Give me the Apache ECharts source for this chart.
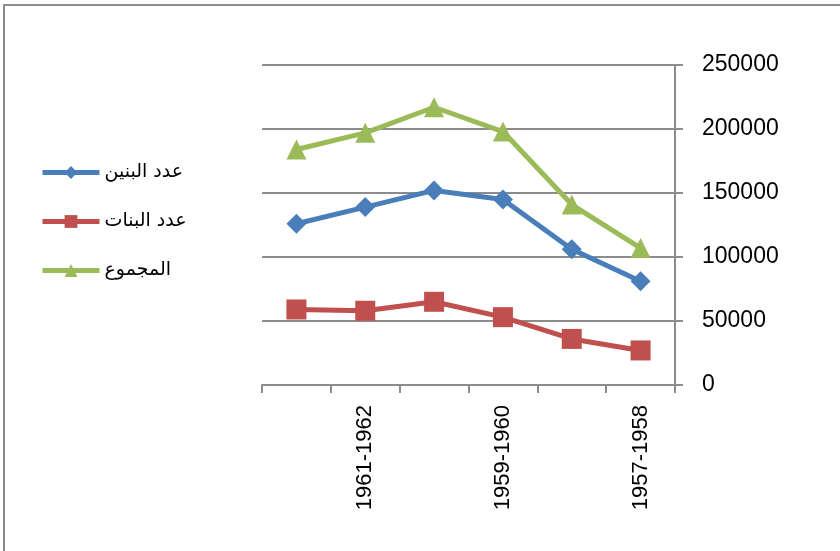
<!DOCTYPE html>
<html lang="ar">

<head>
    <meta charset="UTF-8">
    <title>Chart</title>
    <script src="https://cdn.jsdelivr.net/npm/echarts@6/dist/echarts.min.js"></script>
    <style>
        html, body {
            margin: 0;
            padding: 0;
            background: #fff;
        }

        .frame {
            position: absolute;
            left: 3px;
            top: 4px;
            width: 860px;
            height: 560px;
            border-top: 2px solid #8c8c8c;
            border-left: 2px solid #8c8c8c;
        }

        .chart {
            position: absolute;
            left: 0;
            top: 0;
            width: 840px;
            height: 551px;
        }
    </style>
</head>

<body>
    <div class="frame"></div>
    <div class="chart"></div>

    <script>
        // السنوات الدراسية (المحور معكوس: الأولى تظهر يميناً)
        var years = ['1957-1958', '1958-1959', '1959-1960', '1960-1961', '1961-1962', '1962-1963'];
        var boys = [81000, 106000, 145000, 152000, 139000, 126000];
        var girls = [27000, 36000, 53000, 65000, 58000, 59000];
        var total = [107000, 141000, 198000, 217000, 197000, 184000];
        var yTicks = { min: 0, max: 250000, step: 50000 };

        var chart = echarts.init(document.querySelector('.chart'));

        function line(name, data, color, symbol, size) {
            return {
                name: name,
                type: 'line',
                data: data,
                symbol: symbol,
                symbolSize: size,
                showAllSymbol: true,
                lineStyle: { color: color, width: 5 },
                itemStyle: { color: color },
                emphasis: { disabled: true }
            };
        }

        var option = {
            animation: false,
            legend: {
                orient: 'vertical',
                left: 35,
                top: 158,
                itemWidth: 57,
                itemHeight: 16,
                itemGap: 30,
                lineStyle: { width: 5 },
                textStyle: { fontFamily: 'DejaVu Sans', fontSize: 19, color: '#000' },
                data: ['عدد البنين', 'عدد البنات', 'المجموع']
            },
            grid: { left: 262, right: 165, top: 65, bottom: 166 },
            xAxis: {
                type: 'category',
                inverse: true,
                data: years,
                boundaryGap: true,
                axisLine: { lineStyle: { color: '#8c8c8c', width: 2 } },
                axisTick: { show: true, length: 8, interval: 0, lineStyle: { color: '#8c8c8c', width: 2 } },
                axisLabel: {
                    interval: 1,
                    rotate: 90,
                    margin: 20,
                    fontFamily: 'Liberation Sans',
                    fontSize: 22,
                    color: '#000'
                }
            },
            yAxis: {
                type: 'value',
                position: 'right',
                min: yTicks.min,
                max: yTicks.max,
                interval: yTicks.step,
                axisLine: { show: true, lineStyle: { color: '#8c8c8c', width: 2 } },
                axisTick: { show: true, length: 8, lineStyle: { color: '#8c8c8c', width: 2 } },
                splitLine: { lineStyle: { color: '#8c8c8c', width: 2 } },
                axisLabel: {
                    margin: 27,
                    fontFamily: 'Liberation Sans',
                    fontSize: 23,
                    color: '#000',
                    formatter: function (v) { return String(v); }
                }
            },
            series: [
                line('عدد البنين', boys, '#4a7ebb', 'diamond', 20),
                line('عدد البنات', girls, '#c0504d', 'rect', 20),
                line('المجموع', total, '#9bbb59', 'triangle', 20)
            ]
        };
        chart.setOption(option);
    </script>
</body>

</html>
